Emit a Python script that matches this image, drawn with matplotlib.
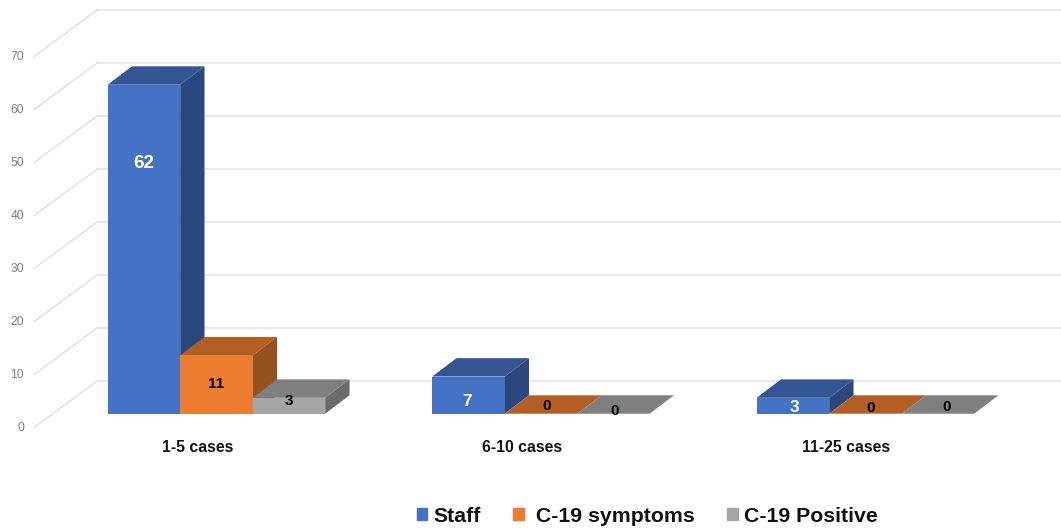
import matplotlib
matplotlib.use('Agg')
import matplotlib.patches as mpatches
import matplotlib.pyplot as plt
import numpy as np

categories = ['1-5 cases', '6-10 cases', '11-25 cases']
staff = [62, 7, 3]
symptoms = [11, 0, 0]
positive = [3, 0, 0]
y_ticks = [0, 10, 20, 30, 40, 50, 60, 70]

plt.rcParams['font.family'] = ['Liberation Sans', 'DejaVu Sans']

# x unit = one category, y unit = one case; page scale used for the oblique look
X_PX = 324.5
Y_PX = 5.306
W = 1061
H = 528
X0 = 107.7
Y0 = 413.7

bar_w = 72.5 / X_PX
dx = 24.3 / X_PX
dy = 18.4 / Y_PX
wall_left = (97 - X0) / X_PX
wall_dx = 63 / X_PX
wall_back = 32.7 / Y_PX
wall_front = -14 / Y_PX
wall_right = (W - X0) / X_PX

fig = plt.figure(figsize=(W / 100, H / 100), dpi=100)
ax = fig.add_axes([0, 0, 1, 1])
ax.set_xlim(-X0 / X_PX, (W - X0) / X_PX)
ax.set_ylim((Y0 - H) / Y_PX, Y0 / Y_PX)
ax.axis('off')

# walls
for t in y_ticks:
    back = t * 53.0 / (10 * Y_PX) + wall_back
    front = t * 53.0 / (10 * Y_PX) + wall_front
    ax.plot([wall_left, wall_right], [back, back], color='#e2e2e2', lw=1.1, zorder=1)
    ax.plot([wall_left - wall_dx, wall_left], [front, back], color='#dcdcdc', lw=0.9, zorder=1)
    ax.text(wall_left - wall_dx - 10 / X_PX, front, str(t), color='#808080', fontsize=8.8,
            ha='right', va='center')

series = [
    ('Staff', staff, '#4472c4', '#335592', '#2a4780'),
    (' C-19 symptoms', symptoms, '#ed7d31', '#b25e24', '#95511f'),
    ('C-19 Positive', positive, '#a5a5a5', '#7f7f7f', '#6b6b6b'),
]

z = 2
for i in range(len(categories)):
    for s, (name, vals, front_c, top_c, side_c) in enumerate(series):
        left = i + s * bar_w
        right = left + bar_w
        v = vals[i]
        ax.fill([right, right + dx, right + dx, right], [0, dy, v + dy, v],
                color=side_c, lw=0, zorder=z)
        ax.fill([left, right, right + dx, left + dx], [v, v, v + dy, v + dy],
                color=top_c, lw=0, zorder=z)
        ax.bar(left, v, width=bar_w, align='edge', color=front_c, lw=0, zorder=z)
        z += 1

# data labels sit by hand in the original, so they are nudged one by one
label_y = [[47.1, 5.65, 2.45], [2.3, 1.5, 0.55], [1.25, 1.1, 1.2]]
label_dx = [[0, 0, 0], [-1, 5.5, 1], [2, 5.5, 9]]
label_size = [[13.6, 11, 11], [12.5, 11, 11], [12.5, 11, 11]]
for i in range(len(categories)):
    for s, (name, vals, *_c) in enumerate(series):
        cx = i + (s + 0.5) * bar_w + label_dx[i][s] / X_PX
        col = 'white' if s == 0 else 'black'
        ax.text(cx, label_y[i][s], str(vals[i]), color=col, fontsize=label_size[i][s],
                fontweight='bold', ha='center', va='center', zorder=50)

for i, c in enumerate(categories):
    ax.text(i + 89.8 / X_PX, (Y0 - 447.5) / Y_PX, c, color='#111111', fontsize=11.4,
            fontweight='bold', ha='center', va='center')

handles = [mpatches.Patch(color=s[2], label=s[0]) for s in series]
ax.legend(handles=handles, ncol=3, frameon=False, loc='center left',
          bbox_to_anchor=(416.7 / W, 1 - 516 / H), bbox_transform=fig.transFigure,
          prop={'weight': 'bold', 'size': 15.3},
          handlelength=0.49, handleheight=0.47, handletextpad=0.28,
          columnspacing=1.55, borderpad=0, borderaxespad=0, labelcolor='#111111')

fig.savefig('out.png', dpi=100)
